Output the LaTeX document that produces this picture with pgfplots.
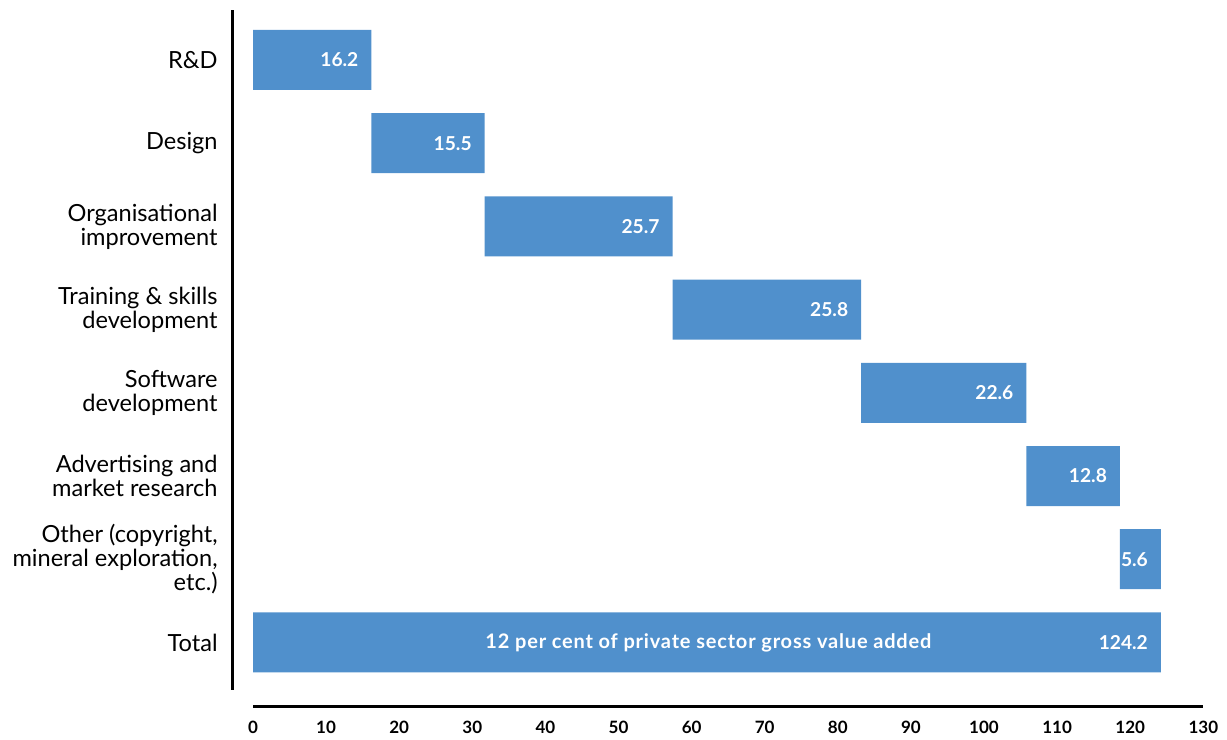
\documentclass[border=0pt]{standalone}
\usepackage{pgfplots}
\pgfplotsset{compat=1.18}
\usepackage{pgfplotstable}
\usepackage{fontspec}
\setmainfont{Lato}
\newfontfamily\widefont[LetterSpace=4]{Lato}
\definecolor{barblue}{RGB}{80,144,204}

% waterfall: off = where each bar starts, val = its length, end = off+val
\pgfplotstableread{
y off val end lab
0 0 16.2 16.2 16.2
1 16.2 15.5 31.7 15.5
2 31.7 25.7 57.4 25.7
3 57.4 25.8 83.2 25.8
4 83.2 22.6 105.8 22.6
5 105.8 12.8 118.6 12.8
6 118.6 5.6 124.2 5.6
7 0 124.2 124.2 124.2
}\wdata

\begin{document}
\begin{tikzpicture}
\begin{axis}[
    x=3.655pt, y=41.6pt,
    y dir=reverse,
    xmin=-2.87, xmax=131,
    ymin=-0.6, ymax=7.77,
    axis line style={draw=none},
    tick style={draw=none},
    xtick={0,10,...,130},
    ytick={0,...,7},
    yticklabels={R\&D, Design, {Organisational\\improvement},
      {Training \& skills\\development}, {Software\\development},
      {Advertising and\\market research},
      {Other (copyright,\\mineral exploration,\\etc.)}, Total},
    /pgf/number format/assume math mode=true,
    xticklabel style={font=\fontsize{8.5}{10}\selectfont\bfseries, inner sep=0pt, yshift=-7pt},
    yticklabel style={font=\fontsize{11.8}{12}\selectfont, align=right, inner sep=0pt, xshift=-7pt},
    clip=false,
  ]
  \addplot[xbar stacked, bar width=30pt, draw=none, fill=none]
    table[x=off, y=y] {\wdata};
  \addplot[xbar stacked, bar width=30pt, draw=none, fill=barblue]
    table[x=val, y=y] {\wdata};
  % value labels, right-aligned inside the end of each bar
  \addplot[stack plots=false, draw=none, mark=none,
    nodes near coords, point meta=explicit symbolic,
    every node near coord/.append style={anchor=east, xshift=-3pt,
      text=white, font=\fontsize{9.6}{10}\selectfont\bfseries}]
    table[x=end, y=y, meta=lab] {\wdata};

  \node[text=white, font=\fontsize{10}{10}\selectfont\widefont\bfseries]
    at (axis cs:62.3,7) {12 per cent of private sector gross value added};

  \draw[line width=1.5pt] (axis cs:-2.87,-0.6) -- (axis cs:-2.87,7.57);
  \draw[line width=1.2pt] (axis cs:0,7.77) -- (axis cs:130,7.77);

  \path (axis cs:-34.61,-0.721) rectangle (axis cs:133.24,8.173);
\end{axis}
\end{tikzpicture}
\end{document}
